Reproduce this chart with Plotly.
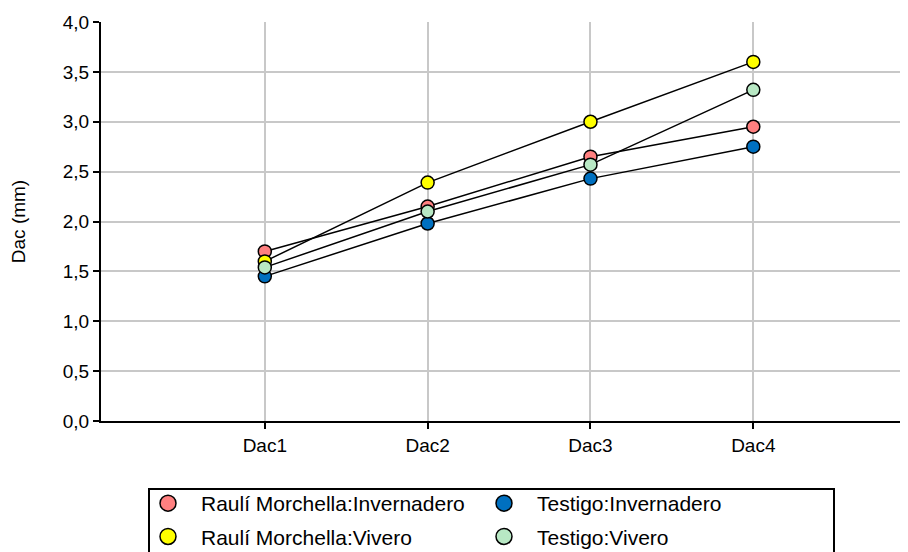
import plotly.graph_objects as go

categories = ["Dac1", "Dac2", "Dac3", "Dac4"]
series_names = ["Raulí Morchella:Invernadero", "Raulí Morchella:Vivero",
                "Testigo:Invernadero", "Testigo:Vivero"]
rauli_invernadero = [1.70, 2.15, 2.65, 2.95]
rauli_vivero = [1.60, 2.39, 3.00, 3.60]
testigo_invernadero = [1.45, 1.98, 2.43, 2.75]
testigo_vivero = [1.54, 2.10, 2.57, 3.32]
series_values = [rauli_invernadero, rauli_vivero, testigo_invernadero, testigo_vivero]
colors = ["#FF8080", "#FFFF00", "#0070C0", "#B8E8C4"]
legend_ids = ["legend", "legend", "legend2", "legend2"]

FONT = "Liberation Sans, Arial, sans-serif"
OFF = 8  # page body margin
W, H = 900, 544
L, R, T, B = 101 - OFF, 0, 22 - OFF, 544 - (421 - OFF)
pw, ph = W - L - R, H - T - B

def px_x(p):  # screen px -> paper x
    return (p - OFF - L) / pw

def px_y(p):  # screen px -> paper y
    return (H - B - (p - OFF)) / ph

fig = go.Figure()
for name, vals, col in zip(series_names, series_values, colors):
    fig.add_trace(go.Scatter(
        x=categories, y=vals, mode="lines+markers", name=name,
        showlegend=False,
        line=dict(color="black", width=1.5),
        marker=dict(size=13, color=col, line=dict(color="black", width=1.5)),
        cliponaxis=False,
    ))
# legend entries
for name, col, lg in zip(series_names, colors, legend_ids):
    fig.add_trace(go.Scatter(
        x=[None], y=[None], mode="markers", name=name, legend=lg,
        legendgroup=name,
        marker=dict(size=22, color=col, line=dict(color="black", width=1.5)),
    ))

legend_common = dict(
    orientation="v", yanchor="top", xanchor="left",
    font=dict(family=FONT, size=21, color="black"),
    bgcolor="rgba(0,0,0,0)", borderwidth=0, tracegroupgap=3,
    itemwidth=56,
)

fig.update_layout(
    width=W, height=H,
    margin=dict(l=L, r=R, t=T, b=B, autoexpand=False),
    paper_bgcolor="white", plot_bgcolor="white",
    font=dict(family=FONT, size=18, color="black"),
    separators=",.",
    legend=dict(x=px_x(135), y=px_y(483), **legend_common),
    legend2=dict(x=px_x(471), y=px_y(483), **legend_common),
    xaxis=dict(
        type="category", range=[-1.006, 3.95],
        showgrid=True, gridcolor="#C8C8C8", gridwidth=1.5,
        showline=True, linecolor="black", linewidth=2,
        ticks="outside", ticklen=6, tickcolor="black", tickwidth=1.5,
        tickfont=dict(family=FONT, size=19, color="black"),
        zeroline=False,
    ),
    yaxis=dict(
        range=[0, 4], dtick=0.5, tickformat=".1f",
        showgrid=True, gridcolor="#C8C8C8", gridwidth=1.5,
        showline=True, linecolor="black", linewidth=2,
        ticks="outside", ticklen=6, tickcolor="black", tickwidth=1.5,
        tickfont=dict(family=FONT, size=19, color="black"),
        zeroline=False,
        title=dict(text="Dac (mm)", standoff=35,
                   font=dict(family=FONT, size=19, color="black")),
    ),
    shapes=[dict(type="rect", xref="paper", yref="paper",
                 x0=px_x(149), x1=px_x(834), y0=px_y(489), y1=px_y(560),
                 line=dict(color="black", width=2), fillcolor="rgba(0,0,0,0)")],
)

fig.write_html("out.html")
